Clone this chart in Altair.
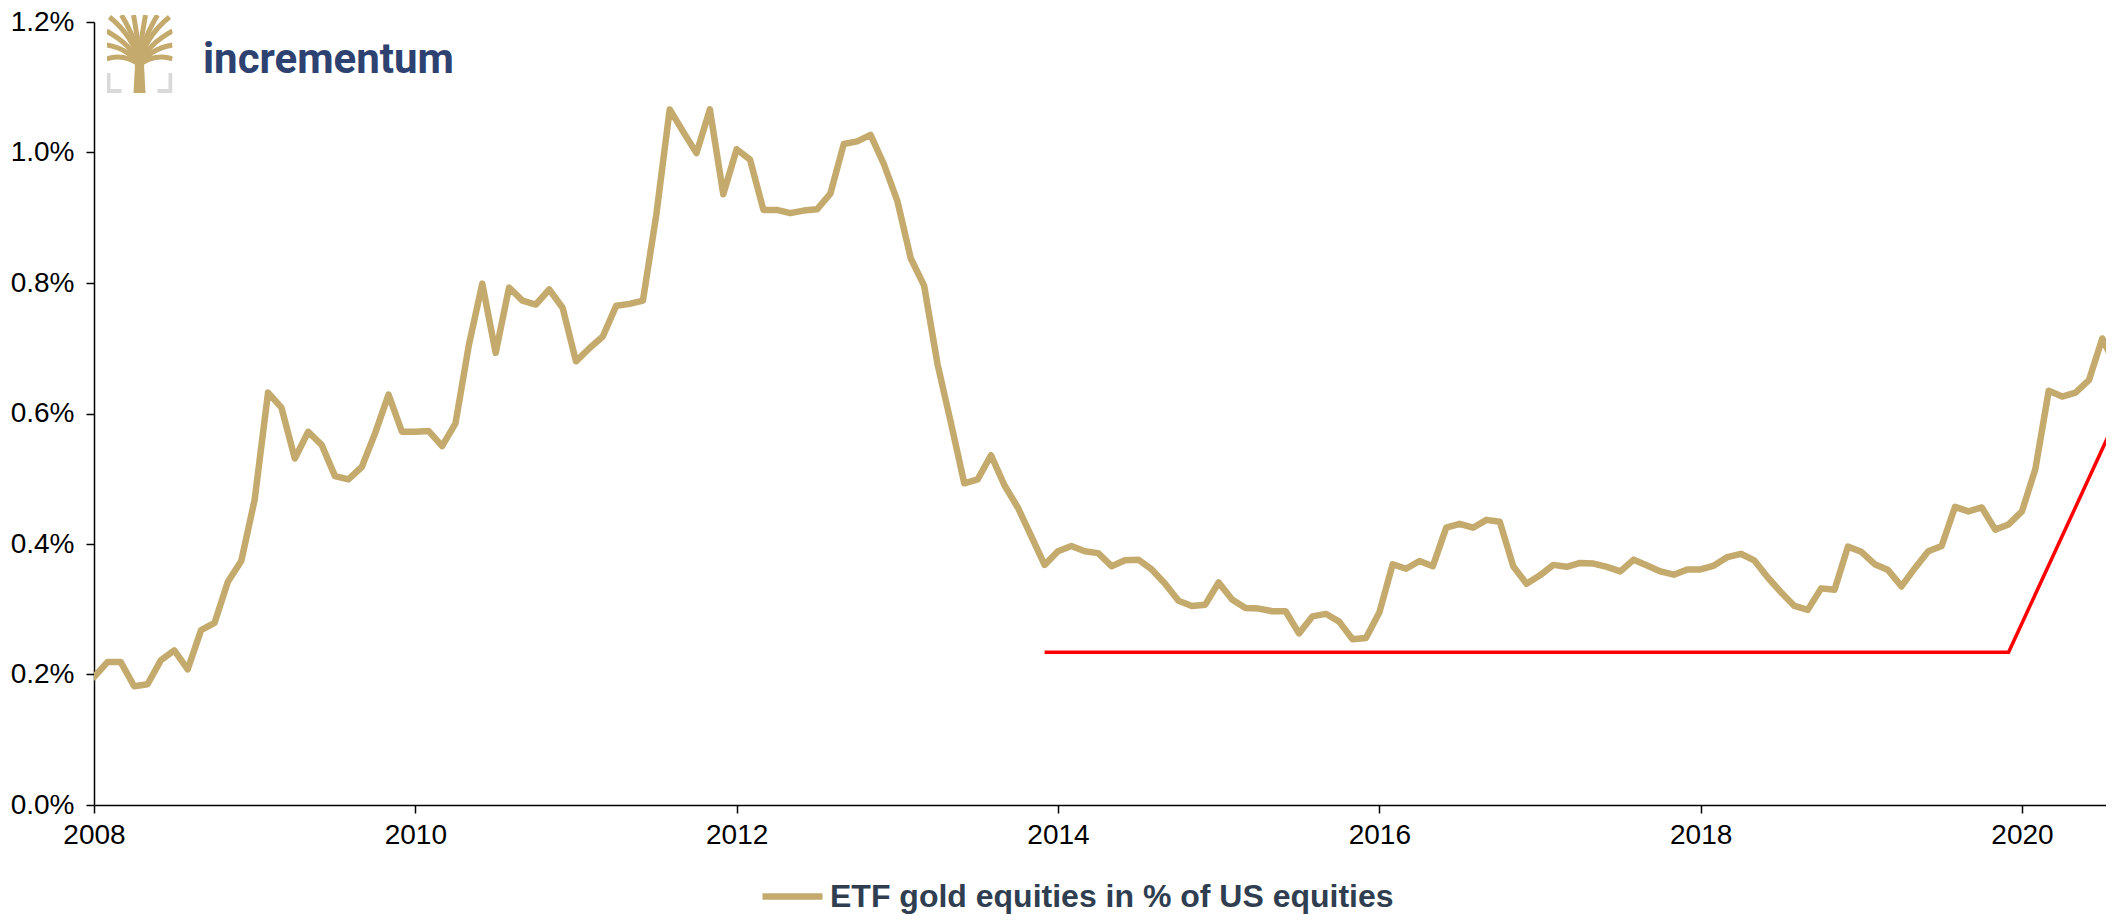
import base64
import altair as alt
import pandas as pd

# ---------------- data ----------------
series_name = "ETF gold equities in % of US equities"

# month index from Jan 2008 (0) to Aug 2020 (151)
month_index = list(range(152))
share_pct = [
    0.196, 0.219, 0.219, 0.182, 0.185, 0.222, 0.237, 0.208, 0.268, 0.279, 0.342, 0.374,
    0.468, 0.632, 0.609, 0.531, 0.572, 0.552, 0.504, 0.499, 0.518, 0.570, 0.629, 0.572,
    0.572, 0.573, 0.550, 0.585, 0.705, 0.799, 0.693, 0.793, 0.773, 0.767, 0.790, 0.762,
    0.680, 0.700, 0.718, 0.765, 0.768, 0.773, 0.905, 1.066, 1.032, 0.999, 1.066, 0.936,
    1.005, 0.989, 0.912, 0.912, 0.907, 0.911, 0.913, 0.937, 1.013, 1.017, 1.027, 0.982,
    0.926, 0.838, 0.796, 0.676, 0.586, 0.493, 0.499, 0.536, 0.490, 0.456, 0.412, 0.368,
    0.389, 0.397, 0.389, 0.386, 0.366, 0.375, 0.376, 0.361, 0.339, 0.313, 0.305, 0.307,
    0.341, 0.315, 0.302, 0.301, 0.297, 0.297, 0.263, 0.289, 0.293, 0.281, 0.254, 0.256,
    0.295, 0.369, 0.362, 0.374, 0.366, 0.425, 0.431, 0.425, 0.437, 0.434, 0.366, 0.339,
    0.352, 0.368, 0.365, 0.371, 0.370, 0.365, 0.358, 0.376, 0.367, 0.358, 0.353, 0.361,
    0.361, 0.367, 0.380, 0.385, 0.375, 0.349, 0.326, 0.305, 0.299, 0.332, 0.330, 0.396,
    0.388, 0.369, 0.360, 0.335, 0.363, 0.389, 0.397, 0.457, 0.450, 0.456, 0.422, 0.430,
    0.450, 0.515, 0.635, 0.626, 0.632, 0.651, 0.715, 0.672,
]

# red support / breakout line (decimal years, % values)
red_x = [2013 + 11 / 12, 2019 + 11 / 12, 2020 + 7 / 12]
red_y = [0.234, 0.234, 0.59]

x_ticks = [2008, 2010, 2012, 2014, 2016, 2018, 2020]
y_ticks = [0.0, 0.2, 0.4, 0.6, 0.8, 1.0, 1.2]

# ---------------- styling ----------------
GOLD = "#C4AA6D"
RED = "#FF0000"
NAVY = "#2D4270"
LEGEND_TXT = "#2F3E50"
FONT = "Liberation Sans"

years = [2008 + m / 12 for m in month_index]
df = pd.DataFrame({"year": years, "value": share_pct, "series": series_name})
df_red = pd.DataFrame({"year": red_x, "value": red_y})

x_scale = alt.Scale(domain=[2008, 2020.523], nice=False, zero=False)
y_scale = alt.Scale(domain=[0, 1.2], nice=False)

axis_style = dict(
    domainColor="black", domainWidth=1.5, tickColor="black", tickWidth=1.5,
    tickSize=8, labelColor="black", labelFont=FONT, labelFontSize=28, grid=False,
    title=None, labelFlush=False,
)
x_axis = alt.Axis(values=x_ticks, format="d", labelPadding=8, **axis_style)
y_axis = alt.Axis(values=y_ticks, labelPadding=12,
                  labelExpr="format(datum.value, '.1f') + '%'", **axis_style)

gold = alt.Chart(df).mark_line(strokeWidth=6.5, clip=True, strokeJoin="round", strokeCap="round").encode(
    x=alt.X("year:Q", scale=x_scale, axis=x_axis),
    y=alt.Y("value:Q", scale=y_scale, axis=y_axis),
    color=alt.Color(
        "series:N",
        scale=alt.Scale(domain=[series_name], range=[GOLD]),
        legend=alt.Legend(
            title=None, orient="none", legendX=665, legendY=841,
            symbolType="stroke", symbolSize=3600, symbolStrokeWidth=6.5,
            labelFont=FONT, labelFontSize=32, labelFontWeight="bold",
            labelColor=LEGEND_TXT, labelLimit=1200, labelOffset=4,
        ),
    ),
)

red = alt.Chart(df_red).mark_line(strokeWidth=3.5, clip=True, color=RED).encode(
    x=alt.X("year:Q", scale=x_scale),
    y=alt.Y("value:Q", scale=y_scale),
)

# ---------------- logo ----------------
svg = """<svg xmlns='http://www.w3.org/2000/svg' viewBox='0 0 66 78' width='66' height='78'>
<g fill='none' stroke='#D9D9DA' stroke-width='4'>
<path d='M2,58 V76 H15'/><path d='M51,76 H64 V58'/></g>
<g fill='none' stroke='#C4AA6D' stroke-width='5' stroke-linecap='butt'>
<path d='M33,52 C31,32 18,14 3,2'/>
<path d='M33,52 C32,30 22,12 15,0'/>
<path d='M33,52 C33,30 29,12 27,0'/>
<path d='M33,52 C33,30 37,12 39,0'/>
<path d='M33,52 C34,30 44,12 51,0'/>
<path d='M33,52 C35,32 48,14 63,2'/>
<path d='M33,52 C28,34 14,24 0,16'/>
<path d='M33,52 C38,34 52,24 66,16'/>
<path d='M33,52 C26,38 12,32 0,30'/>
<path d='M33,52 C40,38 54,32 66,30'/>
<path d='M33,50 C24,42 10,40 0,44'/>
<path d='M33,50 C42,42 56,40 66,44'/>
</g>
<path d='M27,78 L28.5,50 L37.5,50 L39,78 Z' fill='#C4AA6D'/>
</svg>"""
uri = "data:image/svg+xml;base64," + base64.b64encode(svg.encode()).decode()

# logo positions are relative to the plot origin (page x 94, y 22)
logo_img = alt.Chart(pd.DataFrame({"url": [uri]})).mark_image(
    width=66, height=78, align="center", baseline="middle"
).encode(x=alt.value(45.5), y=alt.value(32), url="url:N")

logo_txt = alt.Chart(pd.DataFrame({"t": ["incrementum"]})).mark_text(
    font="Roboto", fontSize=42, fontWeight="bold", color=NAVY,
    align="left", baseline="alphabetic",
).encode(x=alt.value(109), y=alt.value(51), text="t:N")

chart = alt.layer(gold, red, logo_img, logo_txt).properties(
    width=2012, height=783,
    background="white",
    autosize=alt.AutoSizeParams(type="none"),
    padding={"left": 86, "top": 14, "right": 0, "bottom": 111},
).configure_view(stroke=None)

chart.save("out.html", embed_options={"renderer": "svg", "actions": False})
